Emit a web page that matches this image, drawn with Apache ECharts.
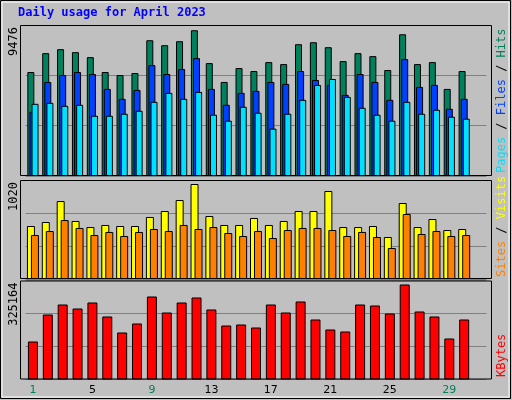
<!DOCTYPE html>
<html><head><meta charset="utf-8">
<script src="https://cdn.jsdelivr.net/npm/echarts@6/dist/echarts.min.js"></script>
<style>html,body{margin:0;padding:0;background:#c0c0c0}#c{width:512px;height:400px}</style>
</head><body><div id="c"></div>
<script>
const days = ['1','2','3','4','5','6','7','8','9','10','11','12','13','14','15','16','17','18','19','20','21','22','23','24','25','26','27','28','29','30','31'];
const weekend = ['1','2','8','9','15','16','22','23','29','30'];
const hits = [6761,7988,8246,8052,7729,6761,6567,6696,8827,8504,8763,9476,7342,6115,7019,6825,7406,7277,8569,8698,8375,7471,7988,7794,6890,9215,7277,7406,5662,6825,null];
const files = [4177,6115,6567,6760,6631,5662,5016,5598,7213,6631,6954,7665,5662,4629,5404,5533,6115,5985,6825,6244,5921,5275,6631,6115,4952,7600,5792,5921,4371,5016,null];
const pages = [4694,4758,4564,4629,3918,3918,4048,4241,4823,5404,5016,5469,3983,3596,4500,4112,3079,4048,4952,5921,6308,5146,4435,3983,3596,4823,4048,4306,3854,3725,null];
const visits = [569,612,837,623,558,580,569,569,666,730,848,1020,676,580,580,655,580,623,730,730,945,558,558,569,451,816,558,644,526,537,null];
const sites = [472,515,633,548,472,505,462,505,537,515,580,537,558,494,462,515,440,526,548,548,526,462,505,451,333,698,483,515,462,472,null];
const kbytes = [130074,222495,256725,243033,263571,215649,160881,191688,284109,229341,263571,280686,239610,184842,188265,177996,256725,229341,266994,205380,171150,164304,256725,253302,225918,325164,232764,215649,140343,205380,null];
const maxLabels = ['9476','1020','325164'];

const chart = echarts.init(document.getElementById('c'));
const GL = 25.5, GW = 461;
const panels = [{top:25,h:151},{top:180,h:99},{top:280.5,h:99}];
const tops = [9818,1063,338855];
const grids = panels.map(p=>({left:GL,width:GW,top:p.top,height:p.h,show:false}));
const xAxes = panels.map((p,i)=>({gridIndex:i,type:'category',data:days,
  axisLine:{show:false},axisTick:{show:false},
  axisLabel:i===2?{show:true,fontFamily:'DejaVu Sans',fontSize:11,margin:5,
    color:'#000',formatter:v=>weekend.includes(v)?'{w|'+v+'}':v,rich:{w:{color:'#00805c',fontFamily:'DejaVu Sans',fontSize:11}}}:{show:false}}));
const yAxes = tops.map((m,i)=>({gridIndex:i,type:'value',min:0,max:m,interval:m/3,
  axisLabel:{show:false},axisLine:{show:false},axisTick:{show:false},
  splitLine:{show:true,lineStyle:{color:'#808080',width:1}}}));
const bs = c=>({color:c,borderColor:'#000',borderWidth:1});
const series = [
 {type:'bar',xAxisIndex:0,yAxisIndex:0,data:hits,barWidth:7,barGap:'-70%',itemStyle:bs('#00805c')},
 {type:'bar',xAxisIndex:0,yAxisIndex:0,data:files,barWidth:7,barGap:'-70%',itemStyle:bs('#0040ff')},
 {type:'bar',xAxisIndex:0,yAxisIndex:0,data:pages,barWidth:7,barGap:'-70%',itemStyle:bs('#00e0ff')},
 {type:'bar',xAxisIndex:1,yAxisIndex:1,data:visits,barWidth:8,barGap:'-50%',itemStyle:bs('#ffff00')},
 {type:'bar',xAxisIndex:1,yAxisIndex:1,data:sites,barWidth:8,barGap:'-50%',itemStyle:bs('#ff8000')},
 {type:'bar',xAxisIndex:2,yAxisIndex:2,data:kbytes,barWidth:10,itemStyle:bs('#ff0000')}
];
const g = [
 {type:'rect',shape:{x:0.5,y:0.5,width:510,height:398},style:{fill:'none',stroke:'#000',lineWidth:1},z:-1},
 {type:'rect',shape:{x:2,y:2,width:507,height:395},style:{fill:'none',stroke:'#fff',lineWidth:1},z:-1},
 {type:'text',left:18,top:7,style:{text:'Daily usage for April 2023',fill:'#0000ff',font:'bold 12px "DejaVu Sans Mono"'}},
];
panels.forEach((p,i)=>{
  g.push({type:'rect',shape:{x:20.5,y:p.top+0.5,width:471,height:p.h-1},style:{fill:'none',stroke:'#000',lineWidth:1},z:10,silent:true});
  g.push({type:'text',x:8,y:p.top+2,rotation:Math.PI/2,style:{text:maxLabels[i],fill:'#000',font:'12px "DejaVu Sans Mono"',align:'right',verticalAlign:'top'}});
});
const rlab = (y,parts)=>({type:'text',x:496,y:y,rotation:Math.PI/2,style:{
  text:parts.map((p,k)=>'{s'+k+'|'+p[0]+'}').join(''),
  rich:Object.fromEntries(parts.map((p,k)=>['s'+k,{fill:p[1],font:'12px "DejaVu Sans Mono"'}])),
  align:'left',verticalAlign:'top'}});
g.push(rlab(173,[['Pages','#00e0ff'],[' / ','#000'],['Files','#0040ff'],[' / ','#000'],['Hits','#00805c']]));
g.push(rlab(277,[['Sites','#ff8000'],[' / ','#000'],['Visits','#ffff00']]));
g.push(rlab(377,[['KBytes','#ff0000']]));
chart.setOption({animation:false,backgroundColor:'#c0c0c0',grid:grids,xAxis:xAxes,yAxis:yAxes,series,graphic:g});
</script></body></html>
